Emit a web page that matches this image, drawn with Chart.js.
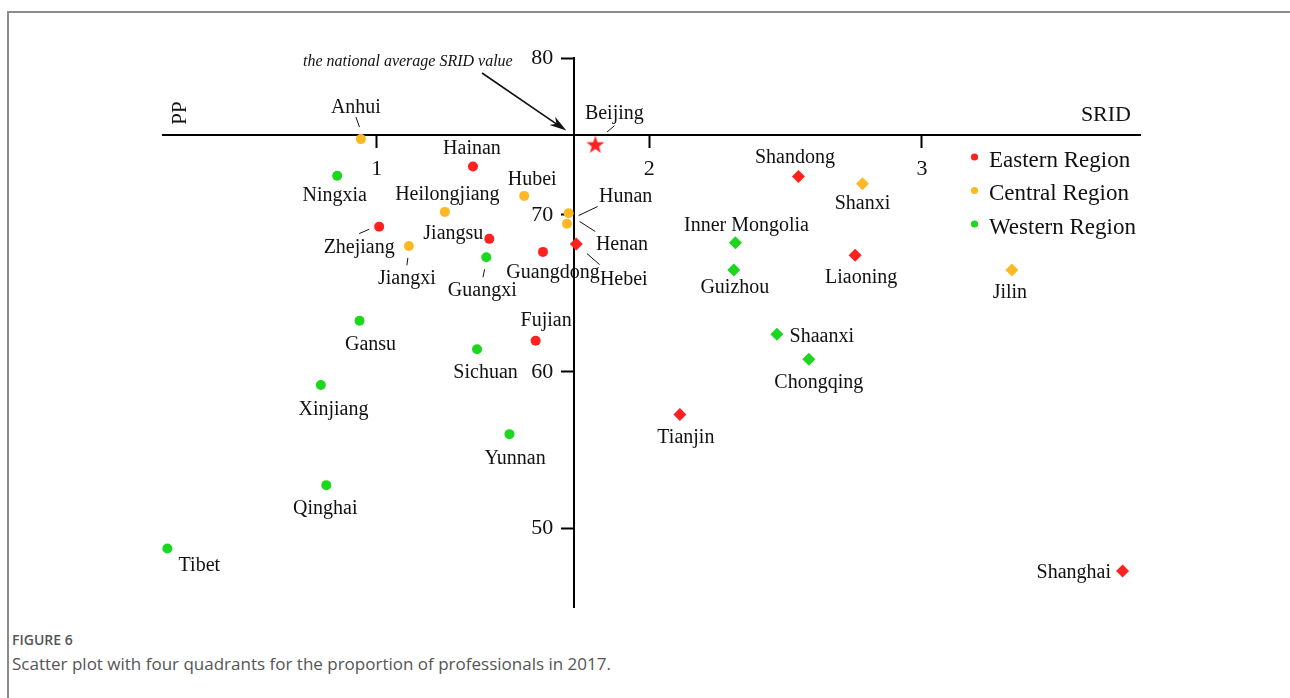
<!DOCTYPE html>
<html><head><meta charset="utf-8">
<script src="https://cdn.jsdelivr.net/npm/chart.js@4.4.1/dist/chart.umd.min.js"></script>
<style>
html,body{margin:0;padding:0;background:#fff;width:1290px;height:698px;overflow:hidden;}
#frame{position:absolute;left:7px;top:11px;right:0;bottom:0;border-top:2px solid #8c8c8c;border-left:2px solid #8c8c8c;}
#wrap{position:absolute;left:0;top:0;width:1290px;height:630px;}
.fig{position:absolute;left:12px;top:630px;font-family:'Open Sans',sans-serif;font-size:14px;font-weight:600;color:#555;}
.cap{position:absolute;left:12px;top:652px;font-family:'Open Sans',sans-serif;font-size:17px;color:#555;}
</style></head>
<body>
<div id="frame"></div>
<div id="wrap"><canvas id="c" width="1290" height="630"></canvas></div>
<div class="fig">FIGURE 6</div>
<div class="cap">Scatter plot with four quadrants for the proportion of professionals in 2017.</div>
<script>
// ---------- data ----------
const regions = ['Eastern Region', 'Central Region', 'Western Region'];

const eastNames = ['Beijing','Tianjin','Hebei','Liaoning','Shanghai','Jiangsu','Zhejiang','Fujian','Shandong','Guangdong','Hainan'];
const eastSRID  = [1.802, 2.112, 1.732, 2.755, 3.736, 1.413, 1.009, 1.583, 2.547, 1.610, 1.353];
const eastPP    = [74.47, 57.28, 68.15, 67.43, 47.30, 68.47, 69.25, 61.98, 72.44, 67.64, 73.08];

const centralNames = ['Shanxi','Jilin','Heilongjiang','Anhui','Jiangxi','Henan','Hubei','Hunan'];
const centralSRID  = [2.782, 3.330, 1.250, 0.942, 1.118, 1.698, 1.541, 1.704];
const centralPP    = [71.98, 66.49, 70.19, 74.83, 68.02, 69.43, 71.21, 70.11];

const westNames = ['Inner Mongolia','Guangxi','Chongqing','Sichuan','Guizhou','Yunnan','Tibet','Shaanxi','Gansu','Qinghai','Ningxia','Xinjiang'];
const westSRID  = [2.316, 1.402, 2.585, 1.368, 2.310, 1.487, 0.232, 2.468, 0.937, 0.815, 0.855, 0.795];
const westPP    = [68.23, 67.30, 60.79, 61.43, 66.49, 56.02, 48.73, 62.39, 63.25, 52.77, 72.49, 59.15];

const avgSRID = 1.725;   // national average SRID (vertical axis)
const avgPP = 75.12;     // horizontal axis crossing
const xTicks = [1, 2, 3];
const yTicks = [50, 60, 70, 80];
const starProvince = 'Beijing';

// ---------- styling / label layout ----------
const colors = ['#ff2020', '#fdb924', '#1cd81c'];
const SERIF = "'Liberation Serif', 'Times New Roman', serif";
const LABEL_SHIFT_Y = 1.5;

const labelLayout = {
  'Anhui': {dx:-5, dy:-33, lead:[-5,-22,-1.4,-12]},
  'Ningxia': {dx:-2.5, dy:18},
  'Hainan': {dx:-1, dy:-19},
  'Hubei': {dx:8, dy:-18},
  'Heilongjiang': {dx:2.5, dy:-19},
  'Hunan': {dx:57, dy:-18, lead:[10,2.4,29,-6.6]},
  'Henan': {dx:55, dy:19, lead:[12.6,-2.3,28.3,7.7]},
  'Hebei': {dx:47.5, dy:34, lead:[10.7,9.7,23.3,20.7]},
  'Zhejiang': {dx:-20, dy:20, lead:[-20,7,-10,2.6]},
  'Jiangsu': {dx:-36, dy:-7},
  'Jiangxi': {dx:-2, dy:31, lead:[-2,19.3,-1,12]},
  'Guangxi': {dx:-4, dy:32, lead:[-3.3,20,-1.7,12]},
  'Guangdong': {dx:10, dy:19},
  'Gansu': {dx:11, dy:23},
  'Fujian': {dx:10.5, dy:-21},
  'Sichuan': {dx:8.5, dy:22},
  'Xinjiang': {dx:12.6, dy:23},
  'Yunnan': {dx:5.7, dy:23},
  'Qinghai': {dx:-1, dy:22},
  'Tibet': {dx:32, dy:16},
  'Beijing': {dx:19, dy:-32, lead:[11.7,-12.7,19,-19]},
  'Shandong': {dx:-3.5, dy:-20},
  'Shanxi': {dx:0, dy:18},
  'Inner Mongolia': {dx:11, dy:-18},
  'Guizhou': {dx:1, dy:16},
  'Liaoning': {dx:6, dy:21},
  'Jilin': {dx:-2, dy:21},
  'Shaanxi': {dx:12.7, dy:1.4, align:'left'},
  'Chongqing': {dx:10, dy:22},
  'Tianjin': {dx:6, dy:22},
  'Shanghai': {dx:-11.6, dy:0, align:'right'}
};

// star marker
const starImg = document.createElement('canvas');
starImg.width = 20; starImg.height = 20;
(function(){
  const c = starImg.getContext('2d');
  c.fillStyle = colors[0];
  c.beginPath();
  for (let i = 0; i < 10; i++) {
    const r = i % 2 === 0 ? 9.5 : 3.8;
    const a = -Math.PI/2 + i * Math.PI/5;
    const px = 10 + r*Math.cos(a), py = 10.5 + r*Math.sin(a);
    i === 0 ? c.moveTo(px, py) : c.lineTo(px, py);
  }
  c.closePath(); c.fill();
})();

function makeSet(label, names, xs, ys, color) {
  return {
    label,
    data: names.map((n, i) => ({x: xs[i], y: ys[i], name: n})),
    backgroundColor: color,
    borderColor: color,
    borderWidth: 0,
    clip: false,
    pointStyle: c => c.raw && c.raw.name === starProvince ? starImg : (c.raw && c.raw.x > avgSRID ? 'rectRot' : 'circle'),
    pointRadius: c => c.raw && c.raw.x > avgSRID ? 6.5 : 5,
    pointHoverRadius: c => c.raw && c.raw.x > avgSRID ? 6.5 : 5
  };
}

const decorPlugin = {
  id: 'decor',
  afterDatasetsDraw(chart) {
    const ctx = chart.ctx;
    ctx.save();
    // point labels + leaders
    ctx.fillStyle = '#111';
    ctx.strokeStyle = '#111';
    ctx.lineWidth = 1;
    ctx.font = '20px ' + SERIF;
    ctx.textBaseline = 'middle';
    chart.data.datasets.forEach((ds, di) => {
      const meta = chart.getDatasetMeta(di);
      meta.data.forEach((el, i) => {
        const name = ds.data[i].name;
        const L = labelLayout[name] || {dx:0, dy:20};
        ctx.textAlign = L.align || 'center';
        ctx.fillText(name, el.x + L.dx, el.y + L.dy + LABEL_SHIFT_Y);
        if (L.lead) {
          ctx.beginPath();
          ctx.moveTo(el.x + L.lead[0], el.y + L.lead[1]);
          ctx.lineTo(el.x + L.lead[2], el.y + L.lead[3]);
          ctx.stroke();
        }
      });
    });
    // legend
    ctx.font = '23px ' + SERIF;
    ctx.textAlign = 'left';
    const ly = [157, 190.5, 224];
    regions.forEach((r, i) => {
      ctx.fillStyle = colors[i];
      ctx.beginPath(); ctx.arc(974.5, ly[i], 3.6, 0, Math.PI*2); ctx.fill();
      ctx.fillStyle = '#111';
      ctx.fillText(r, 989, ly[i] + 3.5);
    });
    // axis titles
    ctx.font = '22px ' + SERIF;
    ctx.textAlign = 'right';
    ctx.fillText('SRID', 1131, 115);
    ctx.save();
    ctx.translate(180, 113);
    ctx.rotate(-Math.PI/2);
    ctx.textAlign = 'center';
    ctx.font = '21px ' + SERIF;
    ctx.fillText('PP', 0, 0);
    ctx.restore();
    // annotation
    ctx.font = 'italic 16px ' + SERIF;
    ctx.textAlign = 'left';
    ctx.fillText('the national average SRID value', 303, 62);
    const x0 = 482, y0 = 73;
    const x1 = chart.scales.x.getPixelForValue(avgSRID) - 8, y1 = chart.scales.y.getPixelForValue(avgPP) - 4;
    ctx.lineWidth = 1.6;
    ctx.beginPath(); ctx.moveTo(x0, y0); ctx.lineTo(x1 - 6, y1 - 4); ctx.stroke();
    const ang = Math.atan2(y1 - y0, x1 - x0);
    ctx.beginPath();
    ctx.moveTo(x1, y1);
    ctx.lineTo(x1 - 17*Math.cos(ang) + 5*Math.sin(ang), y1 - 17*Math.sin(ang) - 5*Math.cos(ang));
    ctx.lineTo(x1 - 12*Math.cos(ang), y1 - 12*Math.sin(ang));
    ctx.lineTo(x1 - 17*Math.cos(ang) - 5*Math.sin(ang), y1 - 17*Math.sin(ang) + 5*Math.cos(ang));
    ctx.closePath(); ctx.fill();
    ctx.restore();
  }
};

const axisCommon = {
  type: 'linear',
  grid: {drawOnChartArea: false, drawTicks: true, tickLength: 12, tickColor: '#000', tickWidth: 2},
  border: {display: true, color: '#000', width: 2},
};

// y labels of a value-positioned axis sit on the axis line; move them left of the tick marks
function shiftYLabels(scale) {
  if (scale._shiftPatched) return;
  scale._shiftPatched = true;
  const orig = scale._computeLabelItems;
  scale._computeLabelItems = function(ca) {
    const items = orig.call(this, ca);
    const shift = this.options.grid.tickLength + this.options.ticks.padding;
    items.forEach(it => {
      const t = (it.options && it.options.translation) || it.translation;
      if (t) t[0] -= shift;
    });
    return items;
  };
}

new Chart(document.getElementById('c'), {
  type: 'scatter',
  data: {
    datasets: [
      makeSet(regions[0], eastNames, eastSRID, eastPP, colors[0]),
      makeSet(regions[1], centralNames, centralSRID, centralPP, colors[1]),
      makeSet(regions[2], westNames, westSRID, westPP, colors[2])
    ]
  },
  options: {
    responsive: false,
    animation: false,
    events: [],
    layout: {padding: {left: 163, right: 150, top: 58, bottom: 3}},
    plugins: {legend: {display: false}, tooltip: {enabled: false}},
    scales: {
      x: Object.assign({}, axisCommon, {
        min: 0.216, max: 3.80,
        position: {y: avgPP},
        afterBuildTicks: s => { s.ticks = xTicks.map(v => ({value: v})); },
        ticks: {font: {family: SERIF, size: 22}, color: '#111', padding: 9, maxRotation: 0, autoSkip: false}
      }),
      y: Object.assign({}, axisCommon, {
        min: 44.95, max: 80,
        position: {x: avgSRID},
        afterBuildTicks: s => { s.ticks = yTicks.map(v => ({value: v})); },
        afterUpdate: shiftYLabels,
        ticks: {font: {family: SERIF, size: 22}, color: '#111', padding: 9, autoSkip: false}
      })
    }
  },
  plugins: [decorPlugin]
});
</script>
</body></html>
